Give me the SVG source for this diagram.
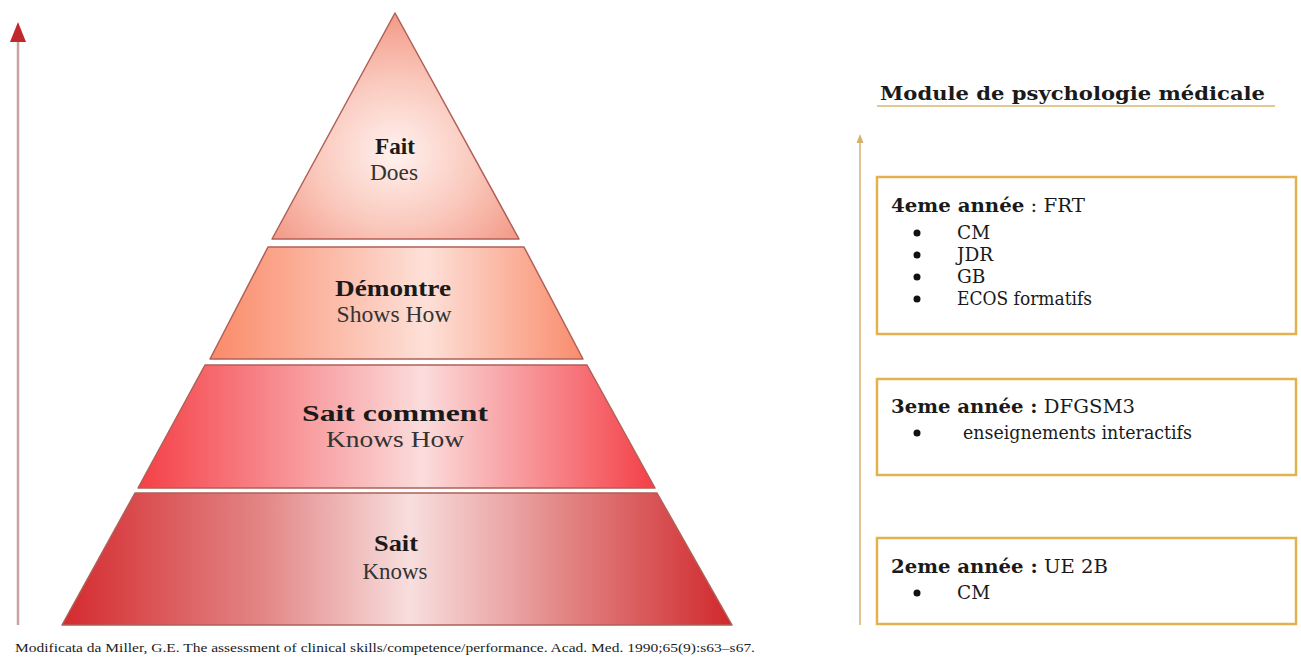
<svg xmlns="http://www.w3.org/2000/svg" width="1301" height="663" viewBox="0 0 1301 663">
<defs>
<radialGradient id="gFait" cx="0.5" cy="0.62" r="0.6">
<stop offset="0" stop-color="#fff2ef"/>
<stop offset="0.55" stop-color="#fac8bc"/>
<stop offset="1" stop-color="#f39c8a"/>
</radialGradient>
<linearGradient id="gDem" x1="0" y1="0" x2="1" y2="0">
<stop offset="0" stop-color="#fa8a68"/>
<stop offset="0.58" stop-color="#fde0d8"/>
<stop offset="1" stop-color="#f98c6c"/>
</linearGradient>
<linearGradient id="gSC" x1="0" y1="0" x2="1" y2="0">
<stop offset="0" stop-color="#f43f46"/>
<stop offset="0.55" stop-color="#fbdcdc"/>
<stop offset="1" stop-color="#f43f47"/>
</linearGradient>
<linearGradient id="gSait" x1="0" y1="0" x2="1" y2="0">
<stop offset="0" stop-color="#d42a2e"/>
<stop offset="0.3" stop-color="#e38686"/>
<stop offset="0.52" stop-color="#f8dede"/>
<stop offset="0.75" stop-color="#e38585"/>
<stop offset="1" stop-color="#d0282c"/>
</linearGradient>
</defs>
<style>
.band{stroke:#b06058;stroke-width:1.5;stroke-linejoin:round}
.pb{font-family:"Liberation Serif",serif;font-weight:bold;font-size:23px;fill:#1a1a1a;text-anchor:middle}
.pr{font-family:"Liberation Serif",serif;font-size:23px;fill:#333;text-anchor:middle}
.box{fill:#fff;stroke:#e2b24e;stroke-width:2.5}
.rt{font-family:"DejaVu Serif",serif;font-size:18.5px;fill:#1a1a1a}
.rb{font-weight:bold}
.cap{font-family:"Liberation Serif",serif;font-size:12.5px;fill:#222}
.dot{fill:#111}
</style>
<g id="connectors">
<line x1="18" y1="625" x2="18" y2="40" stroke="#c9a3a3" stroke-width="2.5"/>
<polygon points="18,22 10,42 26,42" fill="#c0282d"/>
<line x1="860" y1="625" x2="860" y2="139" stroke="#d6b16e" stroke-width="1.5"/>
<polygon points="860,134 856.5,143 863.5,143" fill="#d6b16e"/>
</g>
<g id="fait">
<polygon class="band" points="395,13 519,239 272,239" fill="url(#gFait)"/>
<text class="pb" x="395" y="154" textLength="40" lengthAdjust="spacingAndGlyphs">Fait</text>
<text class="pr" x="394" y="180" textLength="48" lengthAdjust="spacingAndGlyphs">Does</text>
</g>
<g id="demontre">
<polygon class="band" points="268,247 524,247 583,359 210,359" fill="url(#gDem)"/>
<text class="pb" x="393" y="296" textLength="116" lengthAdjust="spacingAndGlyphs">Démontre</text>
<text class="pr" x="394" y="322" textLength="115" lengthAdjust="spacingAndGlyphs">Shows How</text>
</g>
<g id="sait-comment">
<polygon class="band" points="205,365 587,365 655,488 138,488" fill="url(#gSC)"/>
<text class="pb" x="395" y="421" font-size="25" textLength="186" lengthAdjust="spacingAndGlyphs">Sait comment</text>
<text class="pr" x="395" y="447" font-size="24" textLength="138" lengthAdjust="spacingAndGlyphs">Knows How</text>
</g>
<g id="sait">
<polygon class="band" points="135,493 657,493 732,625 62,625" fill="url(#gSait)"/>
<text class="pb" x="396" y="551" textLength="44" lengthAdjust="spacingAndGlyphs">Sait</text>
<text class="pr" x="395" y="579" textLength="65" lengthAdjust="spacingAndGlyphs">Knows</text>
</g>
<g id="caption">
<text class="cap" x="15" y="652" textLength="740" lengthAdjust="spacingAndGlyphs">Modificata da Miller, G.E. The assessment of clinical skills/competence/performance. Acad. Med. 1990;65(9):s63–s67.</text>
</g>
<g id="title">
<text class="rt rb" x="880" y="100" font-size="21" textLength="385" lengthAdjust="spacingAndGlyphs">Module de psychologie médicale</text>
<line x1="877" y1="106" x2="1275" y2="106" stroke="#d9b670" stroke-width="1.5"/>
</g>
<g id="annee4">
<rect class="box" x="877" y="177" width="419" height="157"/>
<text class="rt" x="891" y="212" textLength="194" lengthAdjust="spacingAndGlyphs"><tspan class="rb">4eme année</tspan>  : FRT</text>
<circle class="dot" cx="917" cy="233" r="3.5"/>
<text class="rt" x="957" y="239">CM</text>
<circle class="dot" cx="917" cy="255" r="3.5"/>
<text class="rt" x="957" y="261">JDR</text>
<circle class="dot" cx="917" cy="277" r="3.5"/>
<text class="rt" x="957" y="283">GB</text>
<circle class="dot" cx="917" cy="299" r="3.5"/>
<text class="rt" x="957" y="305" textLength="135" lengthAdjust="spacingAndGlyphs">ECOS formatifs</text>
</g>
<g id="annee3">
<rect class="box" x="877" y="379" width="419" height="96"/>
<text class="rt" x="891" y="413" textLength="244" lengthAdjust="spacingAndGlyphs"><tspan class="rb">3eme année :</tspan> DFGSM3</text>
<circle class="dot" cx="917" cy="433" r="3.5"/>
<text class="rt" x="963" y="439" textLength="229" lengthAdjust="spacingAndGlyphs">enseignements interactifs</text>
</g>
<g id="annee2">
<rect class="box" x="877" y="538" width="419" height="86"/>
<text class="rt" x="891" y="573" textLength="217" lengthAdjust="spacingAndGlyphs"><tspan class="rb">2eme année :</tspan> UE 2B</text>
<circle class="dot" cx="917" cy="593" r="3.5"/>
<text class="rt" x="957" y="599">CM</text>
</g>
</svg>
